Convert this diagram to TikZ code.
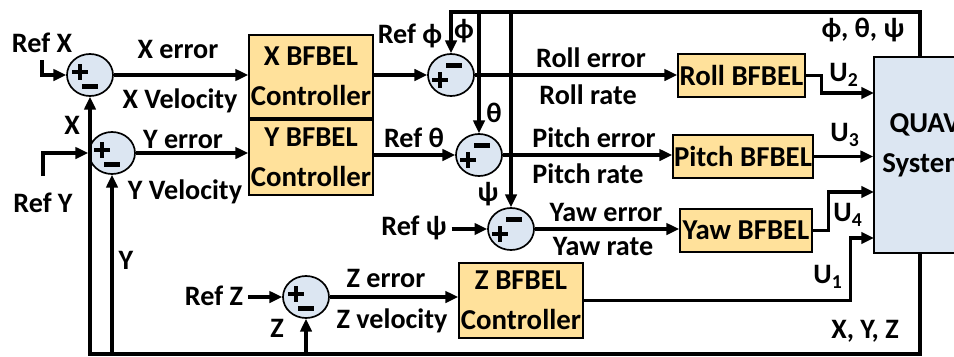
\documentclass[tikz,border=0pt]{standalone}
\usepackage{fontspec}
\setmainfont{Carlito}
\usetikzlibrary{arrows.meta,shapes.geometric}
\definecolor{sumblue}{RGB}{220,230,242}
\definecolor{boxorange}{RGB}{255,225,155}
\newcommand{\lblfont}{\fontsize{20}{22}\selectfont\bfseries}
\newcommand{\boxfont}{\fontsize{20.5}{28.5}\selectfont\bfseries}
\newcommand{\plusat}[3]{%
  \fill ([shift={(#2-8,#3-2)}]#1.center) rectangle ([shift={(#2+8,#3+2)}]#1.center);
  \fill ([shift={(#2-2,#3-8)}]#1.center) rectangle ([shift={(#2+2,#3+8)}]#1.center);}
\newcommand{\minusat}[3]{%
  \fill ([shift={(#2-8,#3-2.5)}]#1.center) rectangle ([shift={(#2+8,#3+2.5)}]#1.center);}
\tikzset{
  sumnode/.style={ellipse,draw,fill=sumblue,line width=1.2pt,inner sep=0pt,
    minimum width=1.15cm,minimum height=1.05cm},
  ctrlbox/.style={draw,fill=boxorange,line width=1.2pt,inner sep=0pt,
    align=center,font=\boxfont},
  sig/.style={line width=2.2pt,->}
}

\begin{document}
\begin{tikzpicture}[x=0.025cm,y=-0.025cm,>={Triangle[length=9pt,width=8pt]},font=\lblfont]
\clip (0,0) rectangle (954,356);
% summing junctions
\node[sumnode] (sx) at (90,75) {};
\node[sumnode] (sy) at (112,153) {};
\node[sumnode] (sz) at (306,297) {};
\node[sumnode] (sphi) at (451,75) {};
\node[sumnode] (stheta) at (479,155) {};
\node[sumnode] (spsi) at (511,229) {};
\foreach \s in {sx,sy,sz}{\plusat{\s}{-10}{-3} \minusat{\s}{0}{11}}
\foreach \s in {sphi,stheta,spsi}{\minusat{\s}{3}{-10} \plusat{\s}{-11}{5}}
% controllers and plant
\node[ctrlbox,minimum width=3.1cm,minimum height=2.075cm] (xctrl) at (311,76.5) {X BFBEL\\Controller};
\node[ctrlbox,minimum width=3.1cm,minimum height=1.875cm] (yctrl) at (311,157.5) {Y BFBEL\\Controller};
\node[ctrlbox,minimum width=3.1cm,minimum height=1.875cm] (zctrl) at (521,300.5) {Z BFBEL\\Controller};
\node[ctrlbox,minimum width=3.175cm,minimum height=1.075cm] (roll) at (741.5,75.5) {Roll BFBEL};
\node[ctrlbox,minimum width=3.5cm,minimum height=1.075cm] (pitch) at (743,156.5) {Pitch BFBEL};
\node[ctrlbox,minimum width=3.3cm,minimum height=1.075cm] (yaw) at (746,230.5) {Yaw BFBEL};
\node[ctrlbox,fill=sumblue,minimum width=2.45cm,minimum height=4.9cm] (quav) at (923,155) {};
\node[font=\boxfont,align=center] (quavtxt) at (925,145) {QUAV\\System};
% references
\node (refx) at (42,43) {Ref X};
\node (refy) at (43,203) {Ref Y};
\node (refz) at (214,296) {Ref Z};
\node (refphi) at (410,36) {Ref ϕ};
\node (reftheta) at (414,138) {Ref θ};
\node (refpsi) at (414,228) {Ref ψ};
% signal labels
\node (xerr) at (178,49) {X error};
\node (xvel) at (180,101) {X Velocity};
\node (xfb) at (72,125) {X};
\node (yerr) at (183,139) {Y error};
\node (yvel) at (185,192) {Y Velocity};
\node (yfb) at (126,260) {Y};
\node (zerr) at (386,278) {Z error};
\node (zvel) at (392,321) {Z velocity};
\node (zfb) at (277,328) {Z};
\node (phifb) at (464,31) {ϕ};
\node (thetafb) at (494,113) {θ};
\node (psifb) at (488,194) {ψ};
\node (rollerr) at (591,58) {Roll error};
\node (rollrate) at (588,95) {Roll rate};
\node (pitcherr) at (594,138) {Pitch error};
\node (pitchrate) at (588,174) {Pitch rate};
\node (yawerr) at (606,212) {Yaw error};
\node (yawrate) at (603,246) {Yaw rate};
\node (angles) at (863,30) {ϕ, θ, ψ};
\node (u2lbl) at (844,75) {U\textsubscript{2}};
\node (u3lbl) at (845,135) {U\textsubscript{3}};
\node (u4lbl) at (848,215) {U\textsubscript{4}};
\node (u1lbl) at (828,277) {U\textsubscript{1}};
\node (xyz) at (865,331) {X, Y, Z};
% forward paths
\coordinate (refxend) at (42,60);
\coordinate (refyend) at (43,176);
\draw[sig] (refxend) |- (sx.west);
\draw[sig] (refyend) |- (sy.west);
\draw[sig] (refz.east |- sz.west) -- (sz.west);
\draw[sig] (refpsi.east |- spsi.west) -- (spsi.west);
\draw[sig] (sx.east) -- (sx.east -| xctrl.west);
\draw[sig] (sy.east) -- (sy.east -| yctrl.west);
\draw[sig] (sz.east) -- (sz.east -| zctrl.west);
\draw[sig] (sphi.west -| xctrl.east) -- (sphi.west);
\draw[sig] (stheta.west -| yctrl.east) -- (stheta.west);
\draw[sig] (sphi.east) -- (sphi.east -| roll.west);
\draw[sig] (stheta.east) -- (stheta.east -| pitch.west);
\draw[sig] (spsi.east) -- (spsi.east -| yaw.west);
\coordinate (u2) at (874,93);
\coordinate (u4) at (874,192);
\coordinate (u1) at (874,238);
\draw[sig] (roll.east) -- ++(16,0) |- (u2);
\draw[sig] (pitch.east) -- (pitch.east -| quav.west);
\draw[sig] (yaw.east) -- ++(16,0) |- (u4);
\draw[sig] (zctrl.east) -- ++(267,0) |- (u1);
% feedback
\coordinate (fbtop) at (920,12);
\coordinate (fbbot) at (920,354);
\draw[sig] (quav.north -| fbtop) -- (fbtop) -| (sphi.north);
\draw[sig] (stheta.north |- fbtop) -- (stheta.north);
\draw[sig] (spsi.north |- fbtop) -- (spsi.north);
\draw[sig] (quav.south -| fbbot) -- (fbbot) -| (sx.south);
\draw[sig] (sy.south |- fbbot) -- (sy.south);
\draw[sig] (sz.south |- fbbot) -- (sz.south);
\end{tikzpicture}
\end{document}
